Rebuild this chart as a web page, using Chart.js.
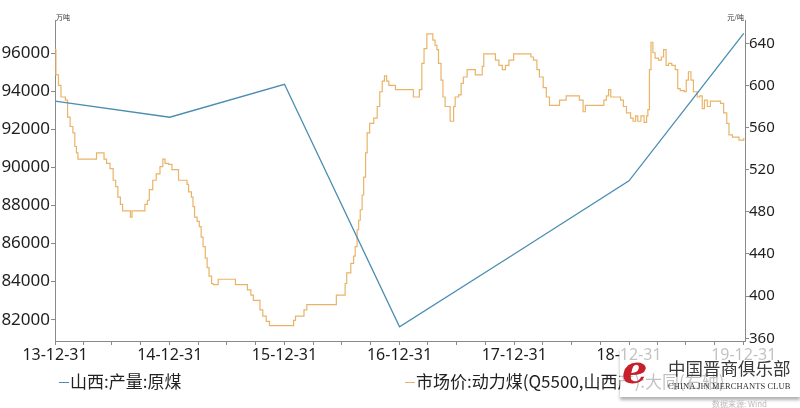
<!DOCTYPE html>
<html>
<head>
<meta charset="utf-8">
<script src="https://cdn.jsdelivr.net/npm/chart.js@4/dist/chart.umd.min.js"></script>
<style>
html,body{margin:0;padding:0;background:#fff;}
#wrap{position:relative;width:800px;height:408px;overflow:hidden;font-family:"Noto Sans","Noto Sans CJK SC",sans-serif;}
#c{position:absolute;left:0;top:0;}
.leg{position:absolute;top:370px;font-size:17px;color:#222;white-space:nowrap;line-height:22px;font-family:"Noto Sans CJK SC","Noto Sans",sans-serif;}
.leg i{display:inline-block;width:10px;height:0;border-top:1.5px solid;vertical-align:middle;margin-right:1px;position:relative;top:-1px;}
#wm{position:absolute;left:620px;top:347px;width:180px;height:50px;background:rgba(255,255,255,0.72);box-shadow:0 3px 3px rgba(0,0,0,0.3);}
#wm .e{position:absolute;left:2px;top:-2px;font:italic bold 40px "DejaVu Serif",serif;color:#c8202a;}
#wm .cn{position:absolute;left:48px;top:8px;font:17.5px "Noto Sans CJK SC",serif;color:#3a3a3a;white-space:nowrap;}
#wm .en{position:absolute;left:48px;top:34px;font:8.5px "Liberation Serif",serif;color:#333;white-space:nowrap;letter-spacing:0.1px;}
#src{position:absolute;left:712px;top:398px;font:8px "Noto Sans CJK SC",sans-serif;color:#bbb;white-space:nowrap;}
</style>
</head>
<body>
<div id="wrap">
<canvas id="c" width="800" height="408"></canvas>
<div class="leg" style="left:59px"><i style="border-color:#4a8db0"></i>山西:产量:原煤</div>
<div class="leg" style="left:405px"><i style="border-color:#e9b468"></i>市场价:动力煤(Q5500,山西产):大同(右轴)</div>
<div id="wm"><div class="e">e</div><div class="cn">中国晋商俱乐部</div><div class="en">CHINA JIN MERCHANTS CLUB</div></div>
<div id="src">数据来源: Wind</div>
</div>
<script>
// ---- data ----
const leftUnit = '万吨';
const rightUnit = '元/吨';
const seriesNames = ['山西:产量:原煤', '市场价:动力煤(Q5500,山西产):大同(右轴)'];

const yearTicks = ['2013-12-31','2014-12-31','2015-12-31','2016-12-31','2017-12-31','2018-12-31','2019-12-31'];
const yearTickLabels = ['13-12-31','14-12-31','15-12-31','16-12-31','17-12-31','18-12-31','19-12-31'];
const minorTicks = ['2014-03-31','2014-06-30','2014-09-30','2015-03-31','2015-06-30','2015-09-30',
  '2016-03-31','2016-06-30','2016-09-30','2017-03-31','2017-06-30','2017-09-30',
  '2018-03-31','2018-06-30','2018-09-30','2019-03-31','2019-06-30','2019-09-30'];
const leftTicks = [82000,84000,86000,88000,90000,92000,94000,96000];
const rightTicks = [360,400,440,480,520,560,600,640];

const prodDates = ['2013-12-31','2014-12-31','2015-12-31','2016-12-31','2017-12-31','2018-12-31','2019-12-31'];
const prodValues = [93490, 92640, 94370, 81630, 85450, 89300, 97050];

const priceDates = ['2013-12-31','2014-01-03','2014-01-11','2014-01-19','2014-02-02','2014-02-09','2014-02-17','2014-02-26',
'2014-03-04','2014-03-09','2014-03-14','2014-05-12','2014-06-05','2014-06-13','2014-06-24','2014-07-04','2014-07-12',
'2014-07-19','2014-07-27','2014-08-03','2014-08-28','2014-09-02','2014-10-13','2014-10-21','2014-10-27','2014-11-07',
'2014-11-18','2014-11-30','2014-12-09','2014-12-16','2014-12-27','2015-01-07','2015-01-28','2015-02-24','2015-03-01',
'2015-03-10','2015-03-15','2015-03-20','2015-03-28','2015-04-04','2015-04-10','2015-04-16','2015-04-23','2015-04-29',
'2015-05-05','2015-05-13','2015-05-18','2015-06-03','2015-07-28','2015-09-04','2015-09-15','2015-09-23','2015-10-14',
'2015-10-23','2015-11-03','2015-11-13','2016-01-29','2016-02-04','2016-03-02','2016-03-11','2016-06-13','2016-07-11',
'2016-07-16','2016-07-29','2016-08-07','2016-08-12','2016-08-18','2016-08-23','2016-08-28','2016-09-03','2016-09-08',
'2016-09-14','2016-09-19','2016-09-27','2016-10-10','2016-10-21','2016-10-29','2016-11-06','2016-11-13','2016-11-20',
'2016-11-27','2016-12-18','2017-02-13','2017-03-04','2017-03-12','2017-03-19','2017-03-28','2017-04-16','2017-04-23',
'2017-04-29','2017-05-04','2017-05-12','2017-05-18','2017-05-25','2017-06-10','2017-06-21','2017-06-26','2017-07-07',
'2017-07-15','2017-07-22','2017-08-03','2017-08-29','2017-09-20','2017-09-25','2017-11-01','2017-11-12','2017-11-23',
'2017-12-03','2017-12-14','2017-12-29','2018-02-22','2018-03-02','2018-03-13','2018-03-21','2018-04-02','2018-04-12',
'2018-04-22','2018-05-24','2018-06-14','2018-07-26','2018-08-07','2018-08-14','2018-10-12','2018-10-20','2018-10-27',
'2018-11-03','2018-12-04','2018-12-13','2018-12-23','2019-01-05','2019-01-13','2019-01-21','2019-01-28','2019-02-07',
'2019-02-17','2019-02-25','2019-03-01','2019-03-06','2019-03-11','2019-03-17','2019-03-24','2019-04-04','2019-04-13',
'2019-04-20','2019-04-28','2019-05-06','2019-05-16','2019-05-27','2019-06-04','2019-06-12','2019-06-25','2019-07-01',
'2019-07-08','2019-07-16','2019-07-24','2019-08-05','2019-08-13','2019-08-21','2019-08-28','2019-09-06','2019-09-16',
'2019-10-18','2019-10-28','2019-11-07','2019-11-14','2019-11-25','2019-12-16','2019-12-31'];
const priceValues = [634,610,600,589,586,570,561,555,
542,536,530,536,530,526,521,510,504,
494,487,481,475,481,487,491,501,510,
516,523,530,526,525,520,510,506,499,
494,485,475,471,466,456,447,436,427,
419,412,411,416,411,406,401,396,387,
381,376,372,377,381,387,392,401,412,
422,431,438,447,463,472,482,496,513,
536,555,564,569,580,594,604,609,604,
600,596,589,596,621,635,649,643,638,
634,621,605,589,580,566,580,589,591,
602,608,615,610,618,630,624,619,615,
619,624,630,627,624,615,608,598,589,
581,586,590,586,575,581,586,590,596,
589,586,580,574,569,566,571,566,571,
565,571,577,615,641,631,626,624,627,
634,619,621,619,615,597,595,594,605,
613,605,594,589,590,578,586,580,585,
583,574,564,553,551,548,550];

// ---- chart ----
const ts = s => Date.parse(s);
const labelMap = {};
yearTicks.forEach((d,i)=>{ labelMap[ts(d)] = yearTickLabels[i]; });
const allXTicks = yearTicks.concat(minorTicks).map(ts).sort((a,b)=>a-b);

const unitPlugin = {
  id: 'units',
  afterDraw(chart) {
    const {ctx, chartArea: a} = chart;
    ctx.save();
    ctx.font = '7px "Noto Sans CJK SC"';
    ctx.fillStyle = '#333';
    ctx.textBaseline = 'bottom';
    ctx.textAlign = 'left';
    ctx.fillText(leftUnit, a.left + 1, a.top + 1);
    ctx.textAlign = 'right';
    ctx.fillText(rightUnit, a.right - 1, a.top + 1);
    ctx.restore();
  }
};

const axisColor = '#8a8a8a';
new Chart(document.getElementById('c'), {
  type: 'line',
  data: {
    datasets: [
      {
        label: seriesNames[0],
        data: prodDates.map((d,i)=>({x: ts(d), y: prodValues[i]})),
        yAxisID: 'y',
        borderColor: '#4a8db0',
        borderWidth: 1.3,
        pointRadius: 0,
        tension: 0
      },
      {
        label: seriesNames[1],
        data: priceDates.map((d,i)=>({x: ts(d), y: priceValues[i]})),
        yAxisID: 'y1',
        borderColor: '#e9b468',
        borderWidth: 1.2,
        pointRadius: 0,
        stepped: true
      }
    ]
  },
  options: {
    responsive: false,
    animation: false,
    events: [],
    layout: { padding: { top: 20, left: 0, right: 0, bottom: 0 } },
    plugins: { legend: { display: false }, tooltip: { enabled: false } },
    scales: {
      x: {
        type: 'linear',
        min: ts('2013-12-31'),
        max: ts('2020-01-04'),
        afterBuildTicks: s => { s.ticks = allXTicks.map(v=>({value:v})); },
        afterFit: s => { s.height = 67; },
        grid: { drawOnChartArea: false, drawTicks: true, tickLength: 4, color: axisColor },
        border: { color: axisColor, width: 1 },
        ticks: {
          autoSkip: false, maxRotation: 0, padding: 1,
          color: '#1e1e1e',
          font: { family: '"Noto Sans"', size: 16 },
          callback: v => labelMap[v] || ''
        }
      },
      y: {
        position: 'left',
        min: 80880, max: 97750,
        afterBuildTicks: s => { s.ticks = leftTicks.map(v=>({value:v})); },
        afterFit: s => { s.width = 55; },
        grid: { drawOnChartArea: false, drawTicks: true, tickLength: 4, color: axisColor },
        border: { color: axisColor, width: 1 },
        ticks: { padding: 1, color: '#1e1e1e', font: { family: '"Noto Sans"', size: 17 }, callback: v => String(v) }
      },
      y1: {
        position: 'right',
        min: 357.4, max: 662.1,
        afterBuildTicks: s => { s.ticks = rightTicks.map(v=>({value:v})); },
        afterFit: s => { s.width = 55; },
        grid: { drawOnChartArea: false, drawTicks: true, tickLength: 4, color: axisColor },
        border: { color: axisColor, width: 1 },
        ticks: { padding: 0, color: '#1e1e1e', font: { family: '"Noto Sans"', size: 15 }, callback: v => String(v) }
      }
    }
  },
  plugins: [unitPlugin]
});
</script>
</body>
</html>
